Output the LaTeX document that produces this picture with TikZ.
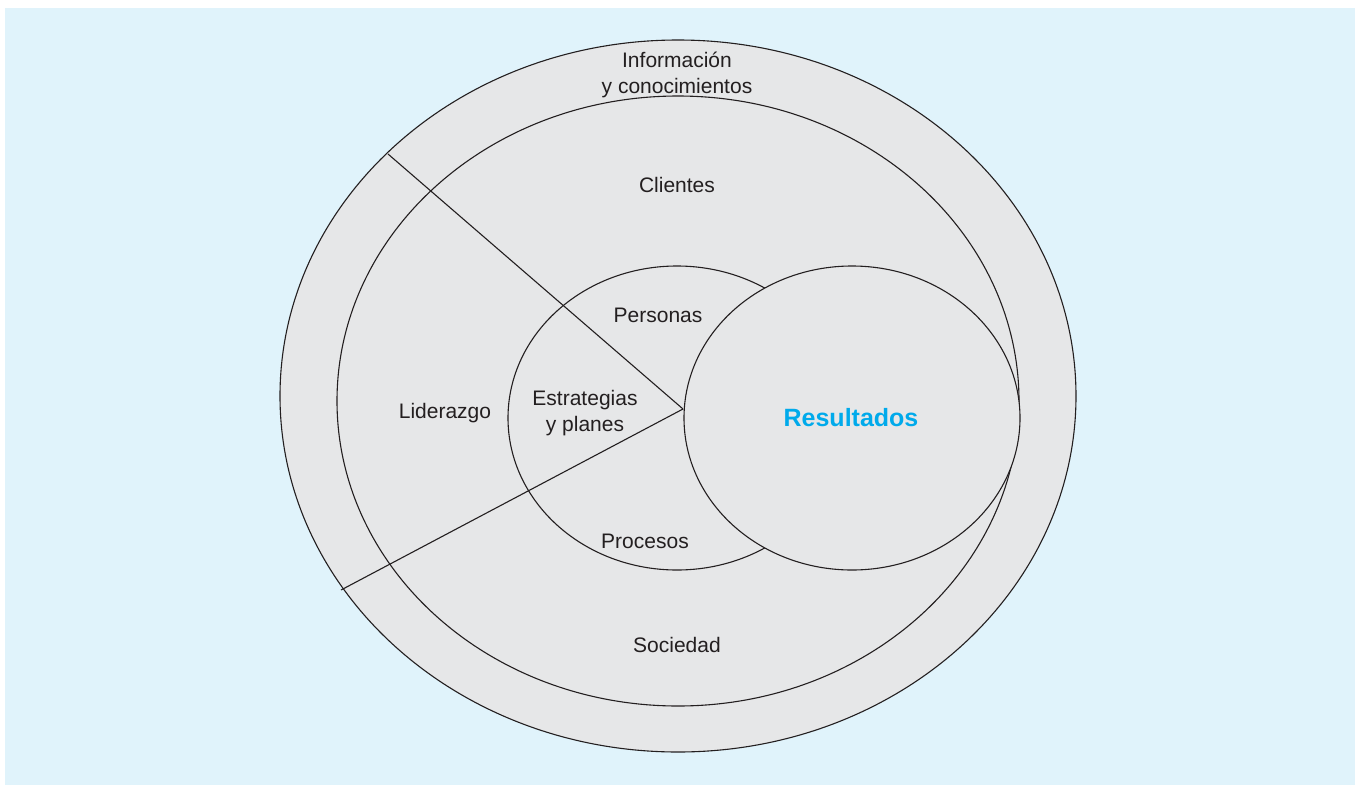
\documentclass[tikz,border=0pt]{standalone}
\usepackage{fontspec}
\setmainfont{Liberation Sans}
\usepackage{xcolor}
\usetikzlibrary{positioning}

\definecolor{bgblue}{RGB}{224,243,251}
\definecolor{areagray}{RGB}{230,231,232}
\definecolor{inkline}{RGB}{35,31,32}
\definecolor{resblue}{RGB}{0,170,235}

\begin{document}
\begin{tikzpicture}[
    x=1pt, y=-1pt,
    zone/.style={draw=inkline, line width=1.1pt, fill=areagray},
    split/.style={draw=inkline, line width=1.1pt},
    lbl/.style={font=\fontsize{21}{26}\selectfont, text=inkline, align=center, inner sep=0pt},
    reslbl/.style={font=\fontsize{25}{30}\selectfont\bfseries, text=resblue, inner sep=0pt}
]
\useasboundingbox (0,0) rectangle (1355,785);
\fill[bgblue] (5,8) rectangle (1355,785);
% Areas
\draw[zone] (678,396) ellipse [x radius=398, y radius=356];
\draw[zone] (678,401) ellipse [x radius=341, y radius=305];
\draw[zone] (677,418) ellipse [x radius=169, y radius=152];
% Split lines
\coordinate (hub) at (683,409);
\coordinate (cut1) at (388,154);
\coordinate (cut2) at (341,590);
\draw[split] (hub) -- (cut1);
\draw[split] (hub) -- (cut2);
% Results
\draw[zone] (852,418) ellipse [x radius=168, y radius=152];
% Labels
\node[lbl] (info) at (677,74.5) {Información\\y conocimientos};
\node[lbl, anchor=base] (clientes) at (677,192) {Clientes};
\node[lbl, anchor=base] (personas) at (658,322) {Personas};
\node[lbl] (estrat) at (585,413.5) {Estrategias\\y planes};
\node[lbl, anchor=base] (lider) at (445,418) {Liderazgo};
\node[lbl, anchor=base] (procesos) at (645,548) {Procesos};
\node[lbl, anchor=base] (sociedad) at (677,652) {Sociedad};
\node[reslbl, anchor=base] (result) at (851,426) {Resultados};
\end{tikzpicture}
\end{document}
